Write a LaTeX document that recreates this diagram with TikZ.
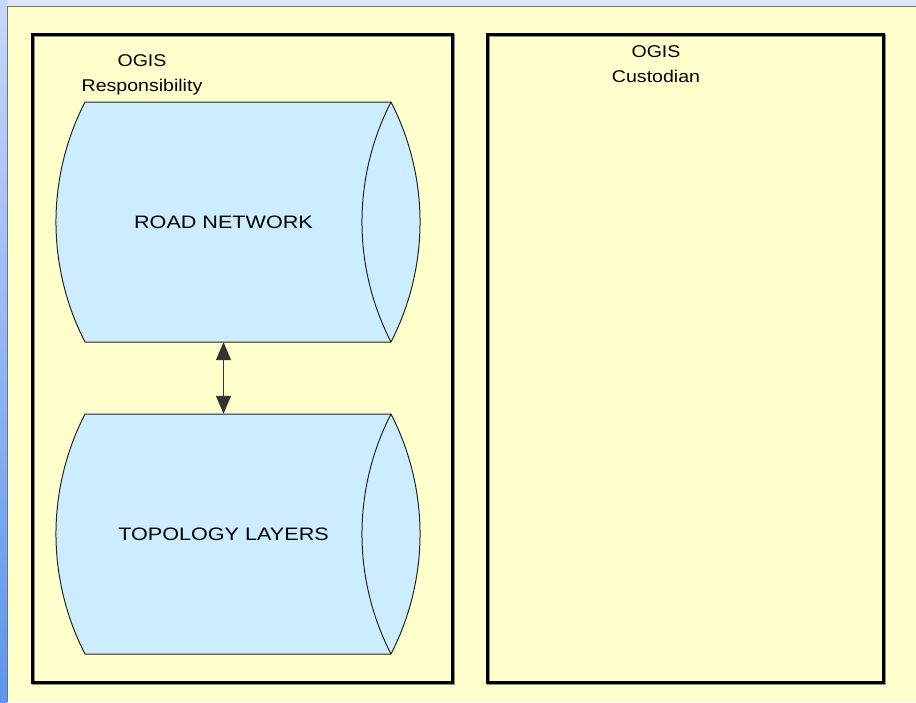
\documentclass[tikz,border=0pt]{standalone}
\usepackage{fontspec}
\setmainfont{Liberation Sans}
\usetikzlibrary{arrows.meta}
\definecolor{panelyellow}{HTML}{FFFFCC}
\definecolor{cylblue}{HTML}{CCECFF}
\definecolor{stripblue}{HTML}{DDE6FA}
\definecolor{striptop}{HTML}{C8D6FA}
\definecolor{stripbot}{HTML}{5C96F0}
\newcommand{\hstr}[1]{\scalebox{1.15}[1]{#1}}
\newcommand{\hstrb}[1]{\scalebox{1.2}[1]{#1}}
\tikzset{
  cylline/.style={draw=black!85, line width=1pt, fill=cylblue},
  container/.style={draw=black, line width=3pt, rectangle, minimum height=648pt, inner sep=0pt},
  boxshadow/.style={draw=black!45, line width=3pt},
  cyltext/.style={rectangle, inner sep=0pt, minimum height=240pt, minimum width=335pt, font=\fontsize{18}{21}\selectfont},
  headtext/.style={align=center, inner sep=0pt, font=\fontsize{17}{25}\selectfont},
  dbl/.style={{Triangle[length=18pt,width=15pt]}-{Triangle[length=18pt,width=15pt]}, line width=1pt, draw=black!80}
}
\newcommand{\cylbody}[1]{%
  \filldraw[cylline] (85,#1) -- (391,#1) .. controls +(38.7,75.4) and +(38.7,-75.4) .. (391,#1+240) -- (85,#1+240) .. controls +(-38.7,-75.4) and +(-38.7,75.4) .. (85,#1) -- cycle;
  \draw[cylline, fill=none] (391,#1) .. controls +(-38.7,75.4) and +(-38.7,-75.4) .. (391,#1+240);}
\begin{document}
\begin{tikzpicture}[x=1pt,y=-1pt]
\useasboundingbox (0,0) rectangle (916,702);
% background
\fill[panelyellow] (7,6) rectangle (916,702);
\fill[stripblue] (0,0) rectangle (916,6);
\shade[top color=striptop, bottom color=stripbot] (0,0) rectangle (7,702);
\draw[black!55, line width=0.8pt] (7,702) -- (7,6) -- (916,6);
% containers
\draw[boxshadow] (33.2,35.2) rectangle (453.2,683.2);
\draw[boxshadow] (488.2,35.2) rectangle (884.2,683.2);
\node[container, minimum width=420pt] (respbox) at (242,358) {};
\node[container, minimum width=396pt] (custbox) at (685,358) {};
% headings
\node[headtext] (resptitle) at (142,75) {\hstr{OGIS}\\\hstr{Responsibility}};
\node[headtext] (custtitle) at (656,64) {\hstr{OGIS}\\\hstr{Custodian}};
% cylinders
\cylbody{102}
\cylbody{414}
\node[cyltext] (road) at (223.5,222) {\hstrb{ROAD NETWORK}};
\node[cyltext] (topo) at (223.5,534) {\hstrb{TOPOLOGY LAYERS}};
% connector
\draw[dbl] (road.south) -- (topo.north);
\end{tikzpicture}
\end{document}
